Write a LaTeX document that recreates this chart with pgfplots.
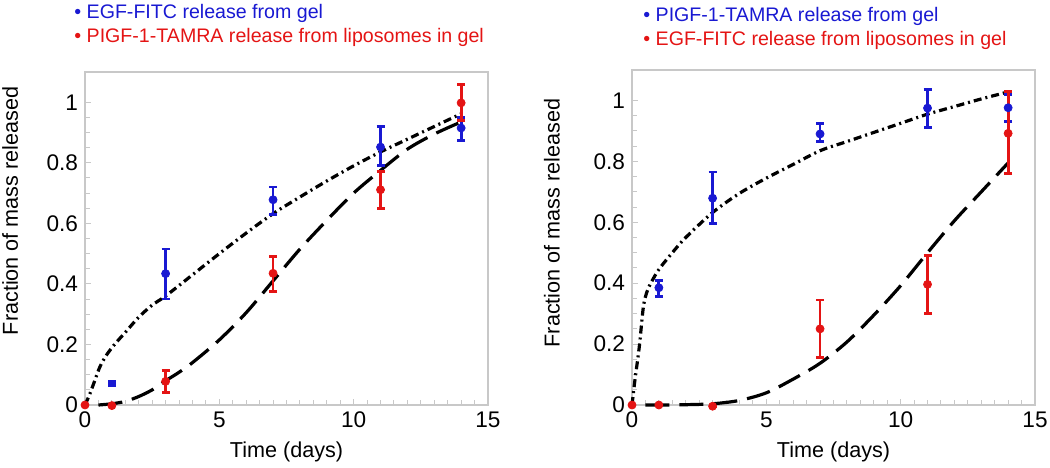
\documentclass[border=0pt]{standalone}
\usepackage{pgfplots}
\pgfplotsset{compat=1.18}
\usepackage{pgfplotstable}
\usepackage{fontspec}
\setmainfont{Liberation Sans}
\definecolor{cblue}{RGB}{25,25,210}
\definecolor{cred}{RGB}{228,20,20}
\definecolor{frame}{RGB}{200,200,200}

% ---------- data: left panel ----------
\pgfplotstableread{
x y ep em
3 0.434 0.081 0.084
7 0.678 0.042 0.048
11 0.852 0.068 0.062
14 0.915 0.035 0.040
}\LblueErr
\pgfplotstableread{
x y ep em
0 0 0 0
1 -0.002 0 0
3 0.078 0.037 0.038
7 0.435 0.055 0.060
11 0.711 0.059 0.061
14 0.998 0.062 0.058
}\LredErr
\pgfplotstableread{
x y
0 0
0.15 0.03
0.3 0.065
0.55 0.125
0.8 0.165
1.1 0.2
1.5 0.24
2 0.29
2.5 0.33
3 0.36
4 0.43
5 0.5
6 0.568
7 0.632
8 0.687
9 0.74
10 0.79
11 0.836
12 0.878
13 0.92
14 0.962
}\LblueFit
\pgfplotstableread{
x y
0.5 0
1 0.004
1.5 0.012
2 0.028
2.5 0.05
3 0.08
3.5 0.108
4 0.14
5 0.215
6 0.305
7 0.41
8 0.515
9 0.61
10 0.70
11 0.775
12 0.845
13 0.895
14 0.935
}\LredFit

% ---------- data: right panel ----------
\pgfplotstableread{
x y ep em
1 0.385 0.025 0.030
3 0.679 0.086 0.084
7 0.89 0.035 0.025
11 0.975 0.060 0.065
14 0.976 0.044 0.046
}\RblueErr
\pgfplotstableread{
x y ep em
0 0 0 0
1 0 0 0
3 -0.004 0 0
7 0.25 0.095 0.095
11 0.396 0.094 0.096
14 0.892 0.138 0.132
}\RredErr
\pgfplotstableread{
x y
0 0
0.11 0.083
0.27 0.19
0.42 0.32
0.55 0.37
0.7 0.40
1 0.445
1.5 0.5
2 0.55
3 0.632
4 0.695
5 0.745
6 0.79
7 0.835
8 0.865
9 0.895
10 0.925
11 0.955
12 0.98
13 1.005
14 1.028
}\RblueFit
\pgfplotstableread{
x y
0.5 0
1 0
2 0.001
3 0.004
4 0.015
5 0.04
6 0.085
7 0.137
8 0.207
9 0.295
10 0.392
11 0.5
12 0.605
13 0.7
14 0.795
}\RredFit

\pgfplotsset{
 panel/.style={
  scale only axis, width=201.5bp,
  xmin=0, xmax=15, ymin=0, ymax=1.1,
  axis line style={frame, line width=0.7bp},
  xtick={0,5,10,15}, ytick={0,0.2,0.4,0.6,0.8,1},
  minor x tick num=9, minor y tick num=3,
  tick style={frame, line width=0.5bp},
  major tick length=3bp, minor tick length=2.5bp,
  tick align=inside,
  xtick pos=bottom, ytick pos=left,
  ticklabel style={font=\fontsize{11.3bp}{13bp}\selectfont},
  /pgf/number format/assume math mode=true,
  label style={font=\fontsize{10.8bp}{13bp}\selectfont},
  xlabel={Time (days)},
  ylabel={Fraction of mass released},
  xlabel style={at={(axis description cs:0.5,-0.141)}, anchor=center},
  clip=false,
 },
 dashdot/.style={black, line width=1.6bp, smooth, tension=0.5, dash pattern=on 4bp off 2bp on 1bp off 2bp},
 longdash/.style={black, line width=1.6bp, smooth, tension=0.5, dash pattern=on 12bp off 5bp},
 bluepts/.style={only marks, mark=*, mark size=2bp, cblue, mark options={draw=cblue, fill=cblue},
   error bars/.cd, y dir=both, y explicit, error mark=-,
   error bar style={line width=1.4bp, cblue},
   error mark options={rotate=90, line width=1.4bp, mark size=2bp, cblue}},
 redpts/.style={only marks, mark=*, mark size=2bp, cred, mark options={draw=cred, fill=cred},
   error bars/.cd, y dir=both, y explicit, error mark=-,
   error bar style={line width=1.4bp, cred},
   error mark options={rotate=90, line width=1.4bp, mark size=2bp, cred}},
}

\begin{document}
\begin{tikzpicture}
\useasboundingbox (0,0) rectangle (525bp,234bp);

\begin{axis}[panel, at={(42.5bp,31.5bp)}, anchor=south west, height=166.5bp,
  ylabel style={at={(axis description cs:-0.186,0.583)}, anchor=center}]
  \addplot[dashdot] table[x=x,y=y] {\LblueFit};
  \addplot[longdash] table[x=x,y=y] {\LredFit};
  \addplot[bluepts] table[x=x,y=y,y error plus=ep,y error minus=em] {\LblueErr};
  \addplot[only marks, mark=square*, mark size=1.6bp, cblue, mark options={draw=cblue, fill=cblue}] coordinates {(1,0.072)};
  \addplot[redpts] table[x=x,y=y,y error plus=ep,y error minus=em] {\LredErr};
\end{axis}

\begin{axis}[panel, at={(316bp,31.5bp)}, anchor=south west, height=167.5bp,
  ylabel style={at={(axis description cs:-0.199,0.543)}, anchor=center}]
  \addplot[dashdot] table[x=x,y=y] {\RblueFit};
  \addplot[longdash] table[x=x,y=y] {\RredFit};
  \addplot[bluepts] table[x=x,y=y,y error plus=ep,y error minus=em] {\RblueErr};
  \addplot[redpts] table[x=x,y=y,y error plus=ep,y error minus=em] {\RredErr};
\end{axis}

\begin{scope}[every node/.style={anchor=west, inner sep=0pt, font=\fontsize{9.8bp}{12bp}\selectfont}]
\node[text=cblue] at (37bp,227.25bp) {• EGF-FITC release from gel};
\node[text=cred]  at (37bp,215.25bp) {• PIGF-1-TAMRA release from liposomes in gel};
\node[text=cblue] at (321.5bp,226bp) {• PIGF-1-TAMRA release from gel};
\node[text=cred]  at (321.5bp,214bp) {• EGF-FITC release from liposomes in gel};
\end{scope}
\end{tikzpicture}
\end{document}
